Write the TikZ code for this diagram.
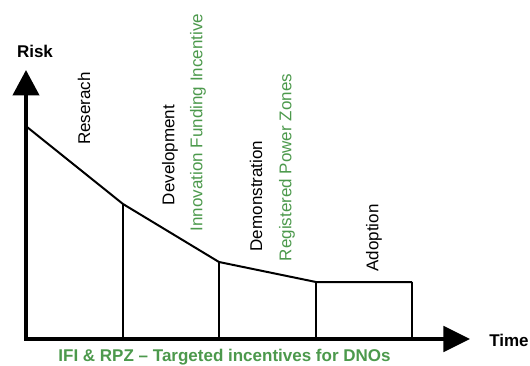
\documentclass[tikz,border=0pt]{standalone}
\usepackage{fontspec}
\setmainfont{Liberation Sans}
\usetikzlibrary{arrows.meta}
\definecolor{incgreen}{RGB}{76,153,76}

\begin{document}
\begin{tikzpicture}[x=0.75pt,y=0.75pt]
\tikzstyle{every node}+=[inner sep=0pt, font=\fontsize{12.75}{15}\selectfont]
\tikzstyle{axis}=[black, line width=3pt, line join=miter,
  {Triangle[length=19pt,width=19.5pt]}-{Triangle[length=20pt,width=19pt]}]
\tikzstyle{riskline}=[black, line width=1.5pt, line join=round]
\tikzstyle{phase}=[rotate=90]
\tikzstyle{scheme}=[rotate=90, text=incgreen]
\useasboundingbox (0,0) rectangle (530,365);
% axes
\coordinate (origin) at (26,26);
\coordinate (ytip) at (26,295);
\coordinate (xtip) at (470,26);
\draw [axis] (ytip) -- (origin) -- (xtip);
\node [anchor=base, font=\fontsize{12.75}{15}\selectfont\bfseries] (risk) at (35,308) {Risk};
\node [anchor=base west, font=\fontsize{12.75}{15}\selectfont\bfseries] (time) at (489,19) {Time};
% risk profile
\coordinate (r0) at (27,238);
\coordinate (r1) at (123,161);
\coordinate (r2) at (219,103);
\coordinate (r3) at (316,83);
\coordinate (r4) at (412,83);
\draw [riskline] (r0) -- (r1) -- (r2) -- (r3) -- (r4);
\foreach \p in {r1,r2,r3,r4}
  \draw [riskline] (\p) -- (\p |- origin);
% phases
\node [phase] (research) at (84,256.5) {Reserach};
\node [phase] (development) at (170,210) {Development};
\node [scheme] (ifi) at (198,242.5) {Innovation Funding Incentive};
\node [phase] (demonstration) at (256,169) {Demonstration};
\node [scheme] (rpz) at (287,197.5) {Registered Power Zones};
\node [phase] (adoption) at (374,127) {Adoption};
% caption
\node [anchor=base, text=incgreen, font=\fontsize{12.75}{15}\selectfont\bfseries] (caption) at (224.5,4)
  {IFI \& RPZ -- Targeted incentives for DNOs};
\end{tikzpicture}
\end{document}
